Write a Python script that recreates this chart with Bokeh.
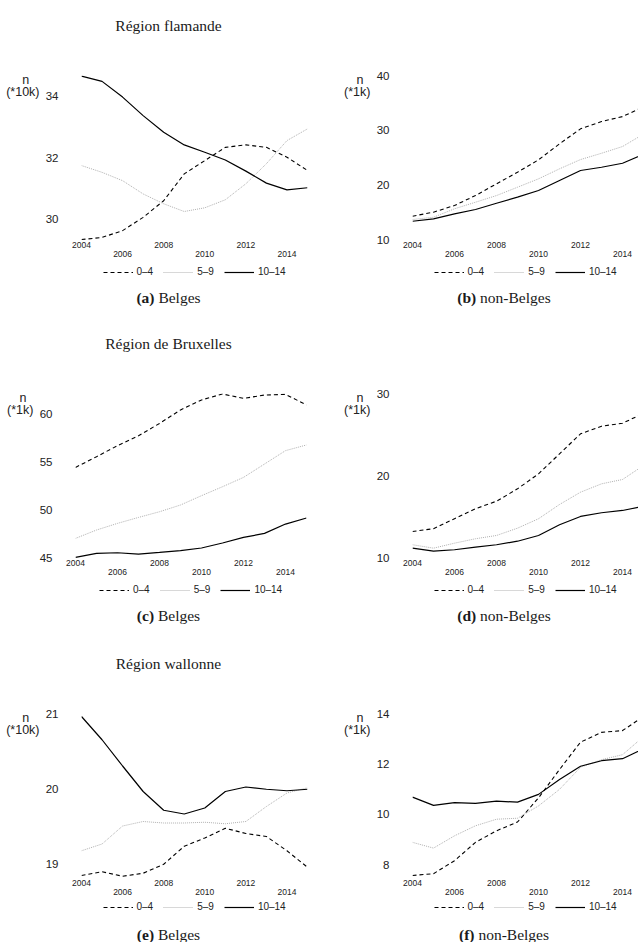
from bokeh.plotting import figure
from bokeh.layouts import column, row
from bokeh.models import FixedTicker, LinearAxis, Label, Legend, LegendItem, Range1d
from bokeh.embed import file_html
from bokeh.resources import INLINE

years = list(range(2004, 2016))
age_labels = ["0–4", "5–9", "10–14"]

# Région flamande – Belges (n, *10k)
fl_be_0_4 = [29.34, 29.41, 29.63, 30.06, 30.60, 31.47, 31.90, 32.33, 32.41, 32.33, 32.01, 31.58]
fl_be_5_9 = [31.74, 31.52, 31.25, 30.82, 30.50, 30.25, 30.37, 30.63, 31.15, 31.80, 32.55, 32.93]
fl_be_10_14 = [34.64, 34.47, 33.96, 33.36, 32.82, 32.41, 32.17, 31.92, 31.56, 31.17, 30.95, 31.02]
# Région flamande – non-Belges (n, *1k)
fl_nb_0_4 = [14.31, 15.04, 16.26, 18.08, 20.22, 22.34, 24.60, 27.52, 30.26, 31.59, 32.50, 34.30]
fl_nb_5_9 = [13.70, 14.12, 15.66, 16.86, 18.08, 19.60, 21.13, 22.96, 24.65, 25.80, 27.03, 29.30]
fl_nb_10_14 = [13.39, 13.83, 14.74, 15.53, 16.68, 17.78, 19.00, 20.82, 22.65, 23.25, 23.98, 25.60]
# Région de Bruxelles – Belges (n, *1k)
bx_be_0_4 = [54.46, 55.57, 56.72, 57.75, 59.03, 60.43, 61.47, 62.09, 61.63, 61.98, 62.05, 60.95]
bx_be_5_9 = [47.08, 47.95, 48.64, 49.26, 49.85, 50.55, 51.52, 52.45, 53.42, 54.81, 56.20, 56.79]
bx_be_10_14 = [45.10, 45.52, 45.59, 45.45, 45.62, 45.80, 46.08, 46.60, 47.18, 47.60, 48.57, 49.20]
# Région de Bruxelles – non-Belges (n, *1k)
bx_nb_0_4 = [13.21, 13.54, 14.76, 15.98, 16.90, 18.41, 20.24, 22.68, 25.12, 26.05, 26.41, 27.63]
bx_nb_5_9 = [11.59, 11.17, 11.78, 12.32, 12.72, 13.61, 14.76, 16.50, 18.00, 19.02, 19.55, 21.26]
bx_nb_10_14 = [11.17, 10.80, 10.98, 11.30, 11.59, 12.02, 12.72, 14.02, 15.04, 15.49, 15.77, 16.29]
# Région wallonne – Belges (n, *10k)
wa_be_0_4 = [18.84, 18.89, 18.83, 18.87, 18.99, 19.23, 19.34, 19.47, 19.40, 19.36, 19.17, 18.95]
wa_be_5_9 = [19.17, 19.26, 19.50, 19.56, 19.54, 19.54, 19.55, 19.53, 19.56, 19.76, 19.94, 20.01]
wa_be_10_14 = [20.96, 20.65, 20.30, 19.96, 19.71, 19.66, 19.74, 19.96, 20.02, 19.99, 19.97, 19.99]
# Région wallonne – non-Belges (n, *1k)
wa_nb_0_4 = [7.57, 7.64, 8.16, 8.89, 9.35, 9.70, 10.66, 11.79, 12.88, 13.27, 13.34, 13.90]
wa_nb_5_9 = [8.89, 8.66, 9.15, 9.55, 9.81, 9.85, 10.34, 11.00, 11.88, 12.18, 12.38, 13.10]
wa_nb_10_14 = [10.69, 10.36, 10.47, 10.44, 10.53, 10.49, 10.80, 11.39, 11.92, 12.14, 12.22, 12.62]

x_ticks_upper = [2004, 2008, 2012]
x_ticks_lower = [2006, 2010, 2014]

fl_be_yticks = [30, 32, 34]
fl_nb_yticks = [10, 20, 30, 40]
bx_be_yticks = [45, 50, 55, 60]
bx_nb_yticks = [10, 20, 30]
wa_be_yticks = [19, 20, 21]
wa_nb_yticks = [8, 10, 12, 14]

region_titles = ["Région flamande", "Région de Bruxelles", "Région wallonne"]
caption_letters = ["(a)", "(b)", "(c)", "(d)", "(e)", "(f)"]
caption_names = ["Belges", "non-Belges"]
unit_labels = ["(*10k)", "(*1k)", "(*1k)", "(*1k)", "(*10k)", "(*1k)"]

SANS = "Liberation Sans"
SERIF = "Liberation Serif"
SERIF_PX = 15.5
EM = {"(a)": 1.166, "(b)": 1.222, "(c)": 1.110, "(d)": 1.222, "(e)": 1.110, "(f)": 1.0,
      "Belges": 2.722, "non-Belges": 4.555, " ": 0.25}

PAGE_W = 638
TITLE_H = 50
PLOT_H = 212          # frame (165) + 25 above + 22 below for the tick labels
FRAME_TOP = 25
FRAME_H = 165
LEGEND_H = 21
legend_centers = [10, 10, 7]
caption_heights = [35, 37, 21]
caption_centers = [14, 14, 12.5]
INK = "#1a1a1a"
TICK_INK = "#222222"

STYLES = [dict(line_color="#000000", line_dash="4 3", line_width=1.1),
          dict(line_color="#b0b0b0", line_dash="1 1", line_width=1.0),
          dict(line_color="#000000", line_width=1.2)]


def blank_strip(h):
    s = figure(width=PAGE_W, height=h, x_range=Range1d(0, 1), y_range=Range1d(0, 1),
               output_backend="svg", toolbar_location=None,
               x_axis_location=None, y_axis_location=None,
               min_border_left=0, min_border_right=0, min_border_top=0, min_border_bottom=0)
    s.title.visible = False
    s.outline_line_color = None
    s.background_fill_color = "white"
    s.border_fill_color = "white"
    for g in s.grid:
        g.visible = False
    return s


def title_strip(r):
    s = blank_strip(TITLE_H)
    s.add_layout(Label(x=168, y=TITLE_H - 25, x_units="screen", y_units="screen",
                       text=region_titles[r], text_font=SERIF, text_font_size=f"{SERIF_PX}px",
                       text_align="center", text_baseline="middle", text_color=INK))
    return s


def legend_strip(r, series):
    # the series lie outside this strip's (0, 1) ranges: only their legend samples show
    s = blank_strip(LEGEND_H)
    rends = [s.line(years, v, **st) for v, st in zip(series, STYLES)]
    centres = [190.5 if r == 1 else 194, 525]
    for cx in centres:
        items = [LegendItem(label=lab, renderers=[rr]) for lab, rr in zip(age_labels, rends)]
        leg = Legend(items=items, orientation="horizontal",
                     location=(cx - 91.5, LEGEND_H - legend_centers[r] - 5),
                     glyph_width=30, glyph_height=10, label_height=10, label_width=0,
                     label_standoff=4, spacing=10, padding=0, margin=0,
                     border_line_color=None, background_fill_alpha=0,
                     label_text_font=SANS, label_text_font_size="10px",
                     label_text_color=TICK_INK, label_text_baseline="middle")
        s.add_layout(leg)
    return s


def caption_strip(r):
    h = caption_heights[r]
    s = blank_strip(h)
    y = h - caption_centers[r]
    for c, cx in enumerate([168, 503.5]):
        letter = caption_letters[2 * r + c]
        name = caption_names[c]
        wa = EM[letter] * SERIF_PX
        wsp = EM[" "] * SERIF_PX
        wb = EM[name] * SERIF_PX
        x0 = cx - (wa + wsp + wb) / 2
        s.add_layout(Label(x=x0 + wa, y=y, x_units="screen", y_units="screen", text=letter,
                           text_font=SERIF, text_font_size=f"{SERIF_PX}px",
                           text_font_style="bold", text_align="right",
                           text_baseline="middle", text_color=INK))
        s.add_layout(Label(x=x0 + wa + wsp, y=y, x_units="screen", y_units="screen",
                           text=name, text_font=SERIF, text_font_size=f"{SERIF_PX}px",
                           text_align="left", text_baseline="middle", text_color=INK))
    return s


def make_panel(idx, series, ylim, yticks):
    r, c = divmod(idx, 2)
    if c == 0:
        W = 318
        left = 75 if r == 1 else 81
        right = 12 if r == 1 else 11
        xr = (2004, 2015)
    else:
        W = 320
        left = 94
        right = 0
        xr = (2004, 2014.76)
    p = figure(width=W, height=PLOT_H, x_range=Range1d(*xr), y_range=Range1d(*ylim),
               output_backend="svg", toolbar_location=None,
               x_axis_location=None, y_axis_location=None,
               min_border_left=left, min_border_right=right,
               min_border_top=FRAME_TOP, min_border_bottom=PLOT_H - FRAME_TOP - FRAME_H)
    p.title.visible = False
    p.outline_line_color = None
    p.background_fill_color = "white"
    p.border_fill_color = "white"
    for g in p.grid:
        g.visible = False
    p.extra_y_ranges = {"px": Range1d(0, FRAME_H)}

    for s, st in zip(series, STYLES):
        p.line(years, s, **st)

    common = dict(axis_line_color=None, major_tick_line_color=None, minor_tick_line_color=None,
                  major_tick_out=0, major_tick_in=0, minor_tick_out=0, minor_tick_in=0,
                  major_label_text_font=SANS, major_label_text_color=TICK_INK)
    yax = LinearAxis(ticker=FixedTicker(ticks=yticks), major_label_standoff=23,
                     major_label_text_font_size="11.5px", **common)
    p.add_layout(yax, "left")

    unit = unit_labels[idx]
    pad = "\u00a0" * (3 if unit == "(*10k)" else 2)
    unit_tick = FRAME_H - 10.5
    uax = LinearAxis(y_range_name="px", ticker=FixedTicker(ticks=[unit_tick]),
                     major_label_overrides={unit_tick: "n" + pad + "\n" + unit},
                     major_label_standoff=3, major_label_text_font_size="12.5px",
                     major_label_text_line_height=0.88, **common)
    p.add_layout(uax, "left")

    ax1 = LinearAxis(ticker=FixedTicker(ticks=x_ticks_upper), major_label_standoff=1,
                     major_label_text_font_size="8.5px", **common)
    ax2 = LinearAxis(ticker=FixedTicker(ticks=x_ticks_lower), major_label_standoff=0,
                     major_label_text_font_size="8.5px", **common)
    p.add_layout(ax1, "below")
    p.add_layout(ax2, "below")
    return p


panel_series = [
    [fl_be_0_4, fl_be_5_9, fl_be_10_14], [fl_nb_0_4, fl_nb_5_9, fl_nb_10_14],
    [bx_be_0_4, bx_be_5_9, bx_be_10_14], [bx_nb_0_4, bx_nb_5_9, bx_nb_10_14],
    [wa_be_0_4, wa_be_5_9, wa_be_10_14], [wa_nb_0_4, wa_nb_5_9, wa_nb_10_14],
]
panel_ylims = [(29.31, 34.66), (9.87, 40.0), (44.99, 62.14), (9.91, 30.04), (18.80, 21.0), (7.45, 14.02)]
panel_yticks = [fl_be_yticks, fl_nb_yticks, bx_be_yticks, bx_nb_yticks, wa_be_yticks, wa_nb_yticks]

plots = [make_panel(i, panel_series[i], panel_ylims[i], panel_yticks[i]) for i in range(6)]

blocks = []
for r in range(3):
    blocks.append(title_strip(r))
    blocks.append(row(plots[2 * r], plots[2 * r + 1], spacing=0))
    blocks.append(legend_strip(r, panel_series[2 * r]))
    blocks.append(caption_strip(r))

layout = column(*blocks, spacing=0)

open("out.html", "w").write(file_html(layout, INLINE))
